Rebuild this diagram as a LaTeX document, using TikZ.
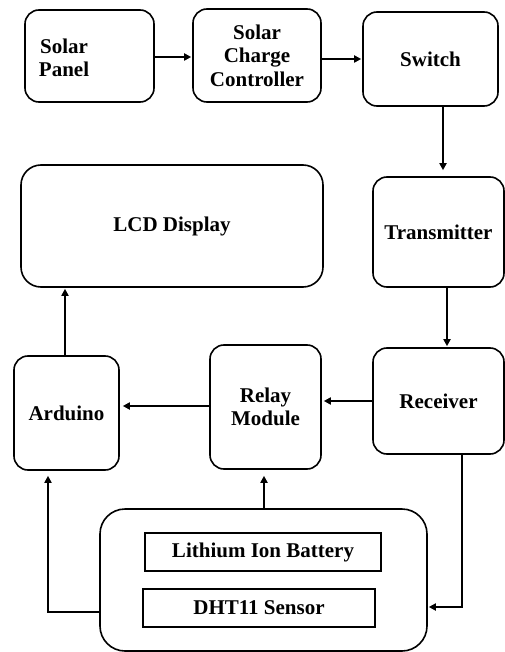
\documentclass[tikz,border=0pt]{standalone}
\usepackage{fontspec}
\setmainfont{Liberation Serif}
\usetikzlibrary{arrows.meta,calc}
\tikzset{
  blk/.style={draw, line width=1.6pt, rounded corners=14pt, inner sep=0pt, align=center,
    font=\fontsize{21}{23.5}\selectfont\bfseries},
  inbox/.style={draw, line width=1.5pt, inner sep=0pt, font=\fontsize{21}{23.5}\selectfont\bfseries},
  lbl/.style={inner sep=0pt, align=center, font=\fontsize{21}{23.5}\selectfont\bfseries},
  arr/.style={line width=2.2pt, -{Triangle[length=7pt,width=7pt]}}
}
\begin{document}
\begin{tikzpicture}[x=1pt,y=-1pt]
\useasboundingbox (0,0) rectangle (505,652);
% top row
\node[blk, minimum width=129pt, minimum height=92pt] (sp) at (89.5,56) {};
\node[lbl] (sptext) at (64,58) {Solar\\Panel};
\node[blk, minimum width=128pt, minimum height=93pt] (scc) at (257,55.5) {Solar\\Charge\\Controller};
\node[blk, minimum width=135pt, minimum height=94pt] (sw) at (430.5,59) {Switch};
% middle
\node[blk, rounded corners=20pt, minimum width=302pt, minimum height=122pt] (lcd) at (172,226) {LCD Display};
\node[blk, minimum width=131pt, minimum height=110pt] (tx) at (438.5,232) {Transmitter};
% lower row
\node[blk, minimum width=105pt, minimum height=114pt] (ard) at (66.5,413) {Arduino};
\node[blk, minimum width=111pt, minimum height=124pt] (rm) at (265.5,407) {Relay\\Module};
\node[blk, minimum width=131pt, minimum height=106pt] (rc) at (438.5,401) {Receiver};
% bottom group
\node[blk, rounded corners=25pt, minimum width=327pt, minimum height=142pt] (bb) at (263.5,580) {};
\node[inbox, minimum width=236pt, minimum height=38pt] (bat) at (263,552) {Lithium Ion Battery};
\node[inbox, minimum width=232pt, minimum height=38pt] (dht) at (259,608) {DHT11 Sensor};
% guide coordinates
\coordinate (xsw) at (443,0);
\coordinate (xtx) at (447,0);
\coordinate (xard) at (65,0);
\coordinate (xrm) at (264,0);
\coordinate (xl) at (48,612);
\coordinate (xr) at (462,607);
% connectors
\draw[arr, shorten >=1pt] ($(sp.east)+(0,1)$) -- ($(sp.east -| scc.west)+(0,1)$);
\draw[arr, shorten >=1pt] ($(scc.east)+(0,3.5)$) -- ($(scc.east -| sw.west)+(0,3.5)$);
\draw[arr, shorten >=6pt] (sw.south -| xsw) -- (tx.north -| xsw);
\draw[arr, shorten >=1pt] (tx.south -| xtx) -- (rc.north -| xtx);
\draw[arr, shorten >=1pt] (ard.north -| xard) -- (lcd.south -| xard);
\draw[arr, shorten >=2pt] (rc.west) -- (rc.west -| rm.east);
\draw[arr, shorten >=3pt] ($(rm.west)+(0,-1)$) -- ($(rm.west -| ard.east)+(0,-1)$);
\draw[arr, shorten >=6pt] (bb.north -| xrm) -- (rm.south -| xrm);
\draw[arr, shorten >=5pt] (bb.west |- xl) -- (xl) -- (ard.south -| xl);
\draw[arr, shorten >=1pt] (rc.south -| xr) -- (xr) -- (xr -| bb.east);
\end{tikzpicture}
\end{document}
